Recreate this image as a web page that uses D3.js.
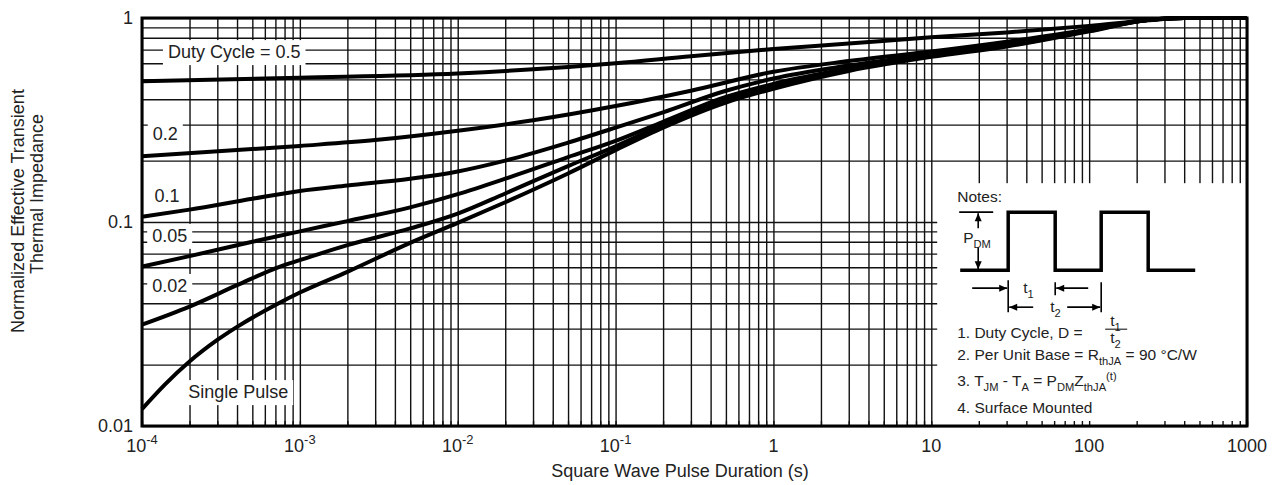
<!DOCTYPE html>
<html>
<head>
<meta charset="utf-8">
<script src="https://cdn.jsdelivr.net/npm/d3@7"></script>
<style>
  html, body { margin: 0; padding: 0; background: #fff; }
  svg { display: block; font-family: "Liberation Sans", Arial, Helvetica, sans-serif; }
</style>
</head>
<body>
<div id="chart"></div>
<script>
// pulse duration (s) and normalized Z for each curve
const tD05 = [1e-4, 1e-3, 1e-2, 3e-2, 0.1, 0.3, 1, 3, 10, 30, 100, 240, 400, 1000];
const zD05 = [0.49, 0.51, 0.535, 0.56, 0.6, 0.65, 0.705, 0.75, 0.805, 0.85, 0.915, 0.975, 1.0, 1.0];

const tD02 = [1e-4, 1e-3, 3e-3, 1e-2, 3e-2, 0.1, 0.3, 1, 3, 10, 30, 100, 240, 400, 1000];
const zD02 = [0.21, 0.236, 0.252, 0.28, 0.315, 0.37, 0.44, 0.545, 0.615, 0.685, 0.765, 0.88, 0.98, 1.0, 1.0];

const tD01 = [1e-4, 2e-4, 5e-4, 1e-3, 2e-3, 5e-3, 1e-2, 2e-2, 5e-2, 0.1, 0.2, 0.5, 1, 3, 10, 30, 100, 240, 400, 1000];
const zD01 = [0.106, 0.115, 0.13, 0.142, 0.151, 0.163, 0.177, 0.2, 0.245, 0.29, 0.345, 0.44, 0.505, 0.585, 0.665, 0.74, 0.875, 0.98, 1.0, 1.0];

const tD005 = [1e-4, 2e-4, 5e-4, 1e-3, 2e-3, 5e-3, 1e-2, 2e-2, 5e-2, 0.1, 0.2, 0.5, 1, 3, 10, 30, 100, 240, 400, 1000];
const zD005 = [0.0605, 0.068, 0.08, 0.09, 0.101, 0.118, 0.137, 0.163, 0.208, 0.25, 0.31, 0.41, 0.475, 0.565, 0.655, 0.735, 0.87, 0.98, 1.0, 1.0];

const tD002 = [1e-4, 2e-4, 4e-4, 7.5e-4, 1e-3, 2e-3, 5e-3, 1e-2, 2e-2, 5e-2, 0.1, 0.2, 0.5, 1, 3, 10, 30, 100, 240, 400, 1000];
const zD002 = [0.0314, 0.0385, 0.049, 0.0605, 0.065, 0.077, 0.093, 0.11, 0.138, 0.188, 0.235, 0.3, 0.4, 0.46, 0.56, 0.65, 0.73, 0.865, 0.98, 1.0, 1.0];

const tSingle = [1e-4, 1.4e-4, 2e-4, 3e-4, 4e-4, 7e-4, 1e-3, 2e-3, 5e-3, 1e-2, 2e-2, 5e-2, 0.1, 0.2, 0.5, 1, 3, 10, 30, 100, 240, 400, 1000];
const zSingle = [0.0121, 0.016, 0.0207, 0.0264, 0.0306, 0.0392, 0.0451, 0.057, 0.079, 0.099, 0.125, 0.173, 0.225, 0.29, 0.385, 0.45, 0.55, 0.645, 0.725, 0.86, 0.98, 1.0, 1.0];

const curveLabels = ["Duty Cycle = 0.5", "0.2", "0.1", "0.05", "0.02", "Single Pulse"];

const xTickValues = [1e-4, 1e-3, 1e-2, 1e-1, 1, 10, 100, 1000];
const xTickBases = ["10", "10", "10", "10", "1", "10", "100", "1000"];
const xTickPowers = ["-4", "-3", "-2", "-1", "", "", "", ""];
const yTickValues = [0.01, 0.1, 1];
const yTickLabels = ["0.01", "0.1", "1"];

// where each curve label sits (text start, baseline) in data units
const labelAnchors = [[1.46e-4, 0.636], [1.17e-4, 0.252], [1.2e-4, 0.125], [1.16e-4, 0.0799], [1.16e-4, 0.0454], [1.96e-4, 0.0137]];
const notesCorner = [10.9, 0.155];

const width = 1274;
const height = 485;
const plotLeft = 142;
const plotRight = 1247;
const plotTop = 18;
const plotBottom = 426;
const fontSize = 18;

const series = [
  [tD05, zD05], [tD02, zD02], [tD01, zD01], [tD005, zD005], [tD002, zD002], [tSingle, zSingle]
].map(([t, z]) => t.map((d, i) => ({ t: d, z: z[i] })));

const xScale = d3.scaleLog().domain([1e-4, 1000]).range([plotLeft, plotRight]);
const yScale = d3.scaleLog().domain([0.01, 1]).range([plotBottom, plotTop]);

const xGrid = [];
for (let k = -4; k < 3; k++) for (let m = 1; m < 10; m++) xGrid.push(m * Math.pow(10, k));
xGrid.push(1000);
const yGrid = [];
for (let k = -2; k < 0; k++) for (let m = 1; m < 10; m++) yGrid.push(m * Math.pow(10, k));
yGrid.push(1);

const svg = d3.select("#chart").append("svg").attr("width", width).attr("height", height);

// writes text parts with sub/superscripts as tspans
function richText(sel, parts, size) {
  let shift = 0;
  parts.forEach(([str, kind]) => {
    const target = kind === "sub" ? size * 0.3 : kind === "sup" ? -size * 0.42 : 0;
    sel.append("tspan")
      .attr("dy", target - shift)
      .attr("font-size", kind ? size * 0.72 : size)
      .text(str);
    shift = target;
  });
}

// grid
svg.append("g")
  .attr("transform", `translate(0,${plotBottom})`)
  .call(d3.axisBottom(xScale).tickValues(xGrid).tickSize(-(plotBottom - plotTop)).tickFormat(""))
  .call((g) => g.select(".domain").remove())
  .selectAll("line").attr("stroke", "#111").attr("stroke-width", 1.4);

svg.append("g")
  .attr("transform", `translate(${plotLeft},0)`)
  .call(d3.axisLeft(yScale).tickValues(yGrid).tickSize(-(plotRight - plotLeft)).tickFormat(""))
  .call((g) => g.select(".domain").remove())
  .selectAll("line").attr("stroke", "#111").attr("stroke-width", 1.4);

// notes box hides the grid
const nx = xScale(notesCorner[0]);
const ny = yScale(notesCorner[1]);
svg.append("rect")
  .attr("x", nx).attr("y", ny)
  .attr("width", plotRight - nx).attr("height", plotBottom - ny)
  .attr("fill", "#fff");

// small inward ticks along bottom edge
svg.append("g")
  .attr("transform", `translate(0,${plotBottom})`)
  .call(d3.axisBottom(xScale).tickValues(xGrid).tickSize(-5).tickFormat(""))
  .call((g) => g.select(".domain").remove())
  .selectAll("line").attr("stroke", "#111").attr("stroke-width", 1.4);

// curve labels on white patches
const labels = svg.append("g")
  .attr("font-size", fontSize)
  .attr("fill", "#222");
curveLabels.forEach((txt, i) => {
  const t = labels.append("text")
    .attr("x", xScale(labelAnchors[i][0]))
    .attr("y", yScale(labelAnchors[i][1]))
    .text(txt);
  const b = t.node().getBBox();
  labels.insert("rect", "text")
    .attr("x", b.x - 5).attr("y", b.y - 2)
    .attr("width", b.width + 10).attr("height", b.height + 5)
    .attr("fill", "#fff");
});

// curves
const line = d3.line()
  .x((d) => xScale(d.t))
  .y((d) => yScale(d.z))
  .curve(d3.curveMonotoneX);

svg.append("g")
  .selectAll("path")
  .data(series)
  .join("path")
  .attr("d", line)
  .attr("fill", "none")
  .attr("stroke", "#000")
  .attr("stroke-width", 4)
  .attr("stroke-linejoin", "round");

// frame
svg.append("rect")
  .attr("x", plotLeft).attr("y", plotTop)
  .attr("width", plotRight - plotLeft).attr("height", plotBottom - plotTop)
  .attr("fill", "none").attr("stroke", "#000").attr("stroke-width", 3);

// tick labels
const xLabels = svg.append("g").attr("fill", "#222").attr("text-anchor", "middle");
xTickValues.forEach((v, i) => {
  const t = xLabels.append("text").attr("x", xScale(v)).attr("y", 452);
  const parts = [[xTickBases[i], ""]];
  if (xTickPowers[i]) parts.push([xTickPowers[i], "sup"]);
  richText(t, parts, fontSize);
});

svg.append("g")
  .attr("fill", "#222").attr("text-anchor", "end").attr("font-size", fontSize)
  .selectAll("text")
  .data(yTickValues)
  .join("text")
  .attr("x", plotLeft - 9)
  .attr("y", (d) => yScale(d))
  .attr("dy", "0.35em")
  .text((d, i) => yTickLabels[i]);

// axis titles
svg.append("text")
  .attr("x", 680).attr("y", 477)
  .attr("text-anchor", "middle").attr("font-size", fontSize).attr("fill", "#222")
  .text("Square Wave Pulse Duration (s)");

svg.append("text")
  .attr("transform", "translate(24,211) rotate(-90)")
  .attr("text-anchor", "middle").attr("font-size", fontSize).attr("fill", "#222")
  .text("Normalized Effective Transient");
svg.append("text")
  .attr("transform", "translate(43,194) rotate(-90)")
  .attr("text-anchor", "middle").attr("font-size", fontSize).attr("fill", "#222")
  .text("Thermal Impedance");

// notes panel
const notes = svg.append("g")
  .attr("transform", `translate(${nx},${ny})`)
  .attr("fill", "#222");
const noteSize = 15.5;

notes.append("text").attr("x", 20).attr("y", 19).attr("font-size", noteSize).text("Notes:");

const wave = [[23, 87], [71, 87], [71, 29], [118, 29], [118, 87], [164, 87], [164, 29], [211, 29], [211, 87], [258, 87]];
notes.append("path")
  .attr("d", d3.line()(wave))
  .attr("fill", "none").attr("stroke", "#000").attr("stroke-width", 3.5);

const thin = (pts) => notes.append("path")
  .attr("d", d3.line()(pts))
  .attr("fill", "none").attr("stroke", "#000").attr("stroke-width", 1.6);
const head = (x, y, dir) => {
  const L = 8, W = 3.5;
  let pts;
  if (dir === "up") pts = [[x, y], [x - W, y + L], [x + W, y + L]];
  if (dir === "down") pts = [[x, y], [x - W, y - L], [x + W, y - L]];
  if (dir === "right") pts = [[x, y], [x - L, y - W], [x - L, y + W]];
  if (dir === "left") pts = [[x, y], [x + L, y - W], [x + L, y + W]];
  notes.append("path").attr("d", d3.line()(pts) + "Z").attr("fill", "#000");
};

// P_DM dimension
thin([[22, 29], [56, 29]]);
thin([[41, 30], [41, 45]]);
head(41, 30, "up");
thin([[41, 64], [41, 86]]);
head(41, 86, "down");
richText(notes.append("text").attr("x", 26).attr("y", 60), [["P", ""], ["DM", "sub"]], noteSize);

// t1 / t2 dimensions
thin([[71, 97], [71, 129]]);
thin([[118, 99], [118, 112]]);
thin([[164, 99], [164, 129]]);
thin([[35, 105], [70, 105]]);
head(70, 105, "right");
thin([[119, 105], [151, 105]]);
head(119, 105, "left");
richText(notes.append("text").attr("x", 86).attr("y", 110), [["t", ""], ["1", "sub"]], noteSize);
thin([[72, 124], [96, 124]]);
head(72, 124, "left");
thin([[130, 124], [163, 124]]);
head(163, 124, "right");
richText(notes.append("text").attr("x", 113).attr("y", 129), [["t", ""], ["2", "sub"]], noteSize);

// numbered notes
notes.append("text").attr("x", 20).attr("y", 155).attr("font-size", noteSize).text("1. Duty Cycle, D =");
richText(notes.append("text").attr("x", 173).attr("y", 143), [["t", ""], ["1", "sub"]], noteSize);
thin([[168, 146], [190, 146]]).attr("stroke-width", 1);
richText(notes.append("text").attr("x", 173).attr("y", 160), [["t", ""], ["2", "sub"]], noteSize);

richText(notes.append("text").attr("x", 20).attr("y", 177),
  [["2. Per Unit Base = R", ""], ["thJA", "sub"], [" = 90 °C/W", ""]], noteSize);
richText(notes.append("text").attr("x", 20).attr("y", 203),
  [["3. T", ""], ["JM", "sub"], [" - T", ""], ["A", "sub"], [" = P", ""], ["DM", "sub"], ["Z", ""], ["thJA", "sub"], ["(t)", "sup"]], noteSize);
notes.append("text").attr("x", 20).attr("y", 230).attr("font-size", noteSize).text("4. Surface Mounted");
</script>
</body>
</html>
